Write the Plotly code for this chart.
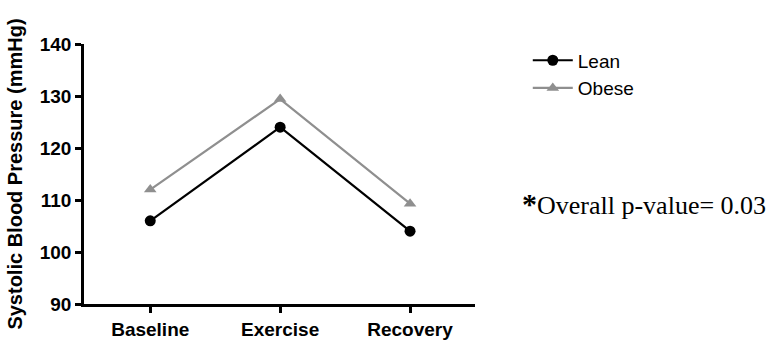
import plotly.graph_objects as go

phases = ["Baseline", "Exercise", "Recovery"]
lean_sbp = [106, 124, 104]
obese_sbp = [112, 129.4, 109.3]
y_ticks = [90, 100, 110, 120, 130, 140]

fig = go.Figure()
fig.add_trace(go.Scatter(
    x=phases, y=lean_sbp, name="Lean", mode="lines+markers",
    line=dict(color="black", width=2.2),
    marker=dict(symbol="circle", size=11, color="black"),
))
fig.add_trace(go.Scatter(
    x=phases, y=obese_sbp, name="Obese", mode="lines+markers",
    line=dict(color="#8f8f8f", width=2.2),
    marker=dict(symbol="triangle-up", size=11, color="#8f8f8f"),
))

tick_font = dict(family="Liberation Sans", size=19, color="black", weight="bold")

fig.update_layout(
    width=774, height=345,
    margin=dict(l=84, r=299, t=44, b=41),
    plot_bgcolor="white", paper_bgcolor="white",
    showlegend=True,
    legend=dict(
        x=1.135, y=1.01, xanchor="left", yanchor="top",
        font=dict(family="Liberation Sans", size=19, color="black"),
        bgcolor="rgba(0,0,0,0)", tracegroupgap=0, itemwidth=40,
    ),
    xaxis=dict(
        range=[-0.51, 2.5], showline=True, linecolor="black", linewidth=2.5,
        ticks="outside", ticklen=6, tickwidth=2.5, tickcolor="black",
        showgrid=False, zeroline=False, automargin=False,
        tickfont=tick_font,
    ),
    yaxis=dict(
        range=[90, 140], tickvals=y_ticks,
        showline=True, linecolor="black", linewidth=2.5,
        ticks="outside", ticklen=6, tickwidth=2.5, tickcolor="black",
        showgrid=False, zeroline=False, automargin=False,
        tickfont=tick_font,
        title=dict(text="Systolic Blood Pressure (mmHg)",
                   font=dict(family="Liberation Sans", size=20, color="black",
                             weight="bold"),
                   standoff=12),
    ),
    annotations=[dict(
        xref="paper", yref="paper", x=1.115, y=0.388, xanchor="left", yanchor="middle",
        showarrow=False,
        text='<b><span style="font-size:30px">*</span></b>Overall p-value= 0.03',
        font=dict(family="Liberation Serif", size=26, color="black"),
    )],
)

fig.write_html("out.html")
